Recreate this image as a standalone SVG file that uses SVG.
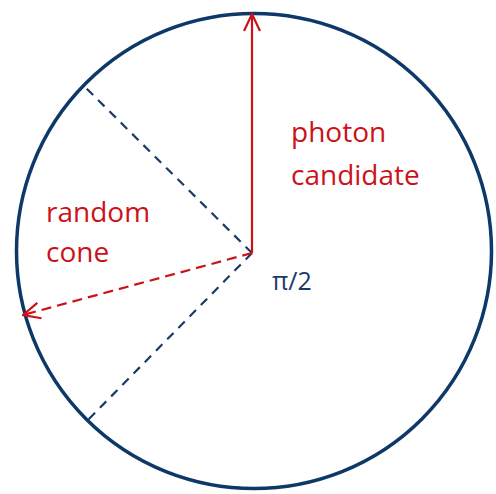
<svg xmlns="http://www.w3.org/2000/svg" width="496" height="494" viewBox="0 0 496 494">
<style>
.red{fill:#cc1219;font-family:"Open Sans",sans-serif;font-size:28px}
.blue{fill:#1a3a6a;font-family:"Open Sans",sans-serif;font-size:25px}
.dash{stroke:#1a3a6a;stroke-width:2.2;stroke-dasharray:9 7;fill:none}
</style>
<defs>
<marker id="ah" viewBox="0 0 20 20" refX="19" refY="10" markerWidth="20" markerHeight="20" markerUnits="userSpaceOnUse" orient="auto">
<path d="M2,2 L19,10 L2,18" fill="none" stroke="#cc1219" stroke-width="2.2"/>
</marker>
</defs>
<rect width="496" height="494" fill="#fff"/>
<g id="circle"><circle cx="254" cy="251" r="237.5" fill="none" stroke="#0d3868" stroke-width="3.5"/></g>
<g id="connectors">
<line class="dash" x1="252" y1="253" x2="85" y2="87"/>
<line class="dash" x1="252" y1="253" x2="86" y2="422"/>
<line x1="252" y1="253" x2="252" y2="14" stroke="#cc1219" stroke-width="2.2" marker-end="url(#ah)"/>
<line x1="252" y1="253" x2="23" y2="315" stroke="#cc1219" stroke-width="2.2" stroke-dasharray="10 6" marker-end="url(#ah)"/>
</g>
<g id="photon"><text class="red" x="291" y="142">photon</text><text class="red" x="291" y="185">candidate</text></g>
<g id="random"><text class="red" x="46" y="222">random</text><text class="red" x="46" y="262">cone</text></g>
<g id="angle"><text class="blue" x="272" y="290">π/2</text></g>
</svg>
